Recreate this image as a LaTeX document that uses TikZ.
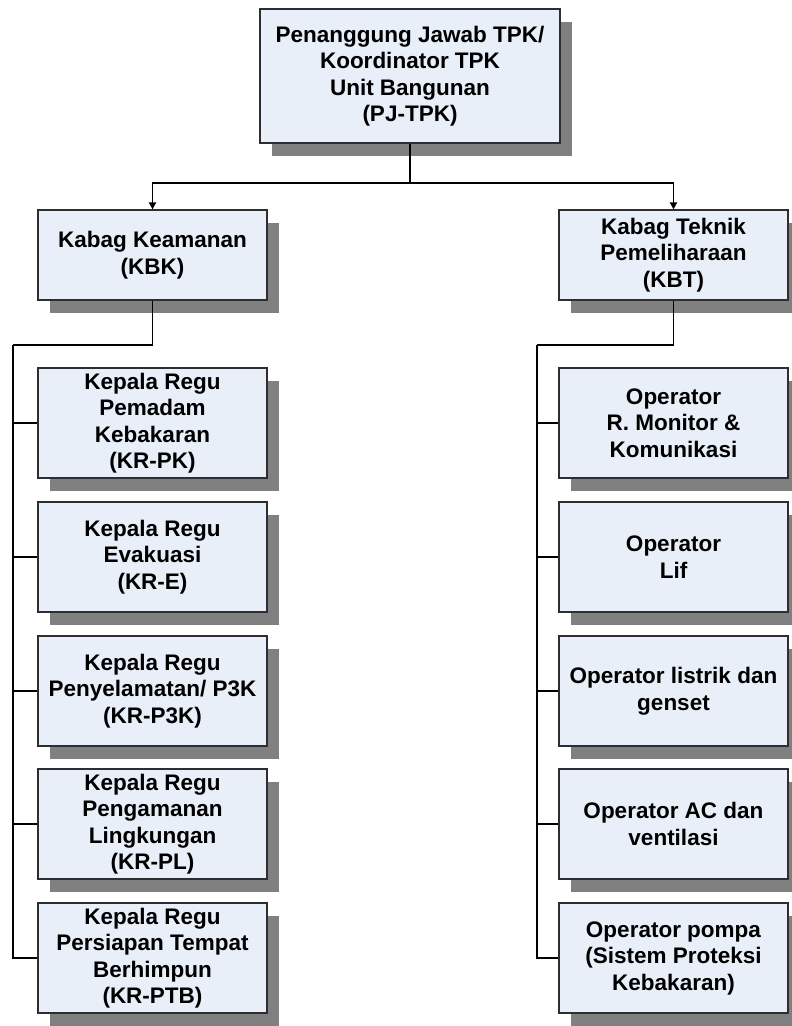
\documentclass[tikz,border=0pt]{standalone}
\usepackage{fontspec}
\setmainfont{Liberation Sans}
\usetikzlibrary{shadows,arrows.meta}
\definecolor{boxfill}{RGB}{233,239,249}
\definecolor{shadowgray}{RGB}{128,128,128}
\definecolor{edgegray}{RGB}{45,45,50}
\tikzset{
  unit/.style={draw=edgegray, line width=1.3pt, fill=boxfill, align=center,
    inner sep=2pt, font=\bfseries\fontsize{22.5}{26.5}\selectfont,
    drop shadow={shadow xshift=12pt, shadow yshift=-13pt, fill=shadowgray, opacity=1}},
  child/.style={unit, minimum width=229pt, minimum height=110pt},
  conn/.style={line width=1.8pt, black},
  arr/.style={conn, -{Triangle[length=7pt,width=7pt]}}
}
\begin{document}
\begin{tikzpicture}[x=1pt,y=-1pt]
\useasboundingbox (0,0) rectangle (792,1026);
\fill[white] (0,0) rectangle (792,1026);

% top
\node[unit, minimum width=300pt, minimum height=134pt] (top) at (410,76)
  {Penanggung Jawab TPK/\\Koordinator TPK\\Unit Bangunan\\(PJ-TPK)};

% heads
\node[unit, minimum width=229pt, minimum height=90pt] (kbk) at (152.5,255)
  {Kabag Keamanan\\(KBK)};
\node[unit, minimum width=229pt, minimum height=90pt] (kbt) at (673.5,255)
  {Kabag Teknik\\Pemeliharaan\\(KBT)};

% left children
\node[child] (pk)  at (152.5,423) {Kepala Regu\\Pemadam\\Kebakaran\\(KR-PK)};
\node[child] (e)   at (152.5,557) {Kepala Regu\\Evakuasi\\(KR-E)};
\node[child] (p3k) at (152.5,691) {Kepala Regu\\Penyelamatan/ P3K\\(KR-P3K)};
\node[child] (pl)  at (152.5,824) {Kepala Regu\\Pengamanan\\Lingkungan\\(KR-PL)};
\node[child] (ptb) at (152.5,958) {Kepala Regu\\Persiapan Tempat\\Berhimpun\\(KR-PTB)};

% right children
\node[child] (mon) at (673.5,423) {Operator\\R. Monitor \&\\Komunikasi};
\node[child] (lif) at (673.5,557) {Operator\\Lif};
\node[child] (lis) at (673.5,691) {Operator listrik dan\\genset};
\node[child] (ac)  at (673.5,824) {Operator AC dan\\ventilasi};
\node[child] (pom) at (673.5,958) {Operator pompa\\(Sistem Proteksi\\Kebakaran)};

% connectors from top
\coordinate (hub) at (410,183);
\draw[conn] (top.south) -- (hub);
\draw[arr] (hub) -| (kbk.north);
\draw[arr] (hub) -| (kbt.north);

% left trunk
\coordinate (lt) at (13,345);
\draw[conn] (kbk.south) |- (lt);
\draw[conn] (lt) |- (ptb.west);
\foreach \n in {pk,e,p3k,pl} \draw[conn] (lt |- \n.west) -- (\n.west);

% right trunk
\coordinate (rt) at (537,345);
\draw[conn] (kbt.south) |- (rt);
\draw[conn] (rt) |- (pom.west);
\foreach \n in {mon,lif,lis,ac} \draw[conn] (rt |- \n.west) -- (\n.west);
\end{tikzpicture}
\end{document}
